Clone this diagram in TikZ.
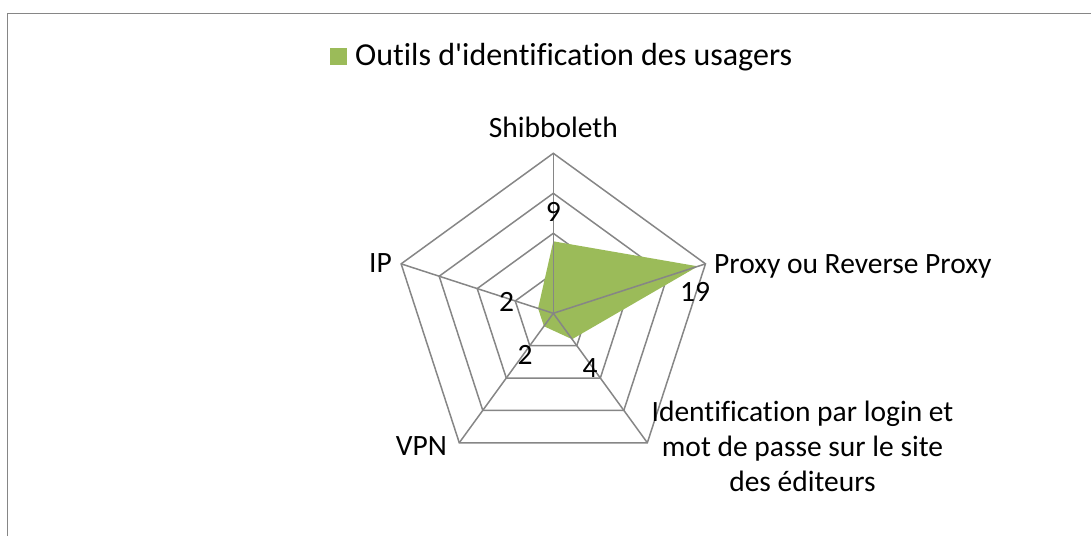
\documentclass[tikz,border=0pt]{standalone}
\usepackage{fontspec}
\setmainfont{Carlito}[Ligatures=NoCommon]
\usepackage{tikz}
\usetikzlibrary{positioning}
\definecolor{gridgray}{RGB}{134,134,134}
\definecolor{radargreen}{RGB}{155,187,89}

\begin{document}
\begin{tikzpicture}[
  x=1pt, y=1pt,
  every node/.style={font=\fontsize{29.5}{35}\selectfont, inner sep=0pt},
  ring/.style={draw=gridgray, line width=1.5pt, line join=miter},
  spoke/.style={draw=gridgray, line width=1.5pt},
  area/.style={fill=radargreen},
  catlabel/.style={anchor=base},
  vallabel/.style={anchor=center}
]
\useasboundingbox (0,0) rectangle (1091,-536);

% Chart frame
\draw[gridgray, line width=1.6pt] (7.5,-536) -- (7.5,-13.5) -- (1091,-13.5);

% Legend
\node[area, minimum size=16.7pt, anchor=south west] (key) at (330,-65) {};
\node[anchor=base west, font=\fontsize{32}{38}\selectfont] (title) at (355,-65)
  {Outils d\textquotesingle identification des usagers};

\begin{scope}[shift={(553.3,-313.3)}]
\coordinate (o) at (0,0);
\foreach \n/\a in {shib/90, proxy/18, login/-54, vpn/-126, ip/162} {
  \coordinate (\n) at (\a:160);
}

% Grid rings, step 5
\foreach \r in {40,80,120,160} {
  \draw[ring] (90:\r) -- (18:\r) -- (-54:\r) -- (-126:\r) -- (162:\r) -- cycle;
}

% Data area
\fill[area] (90:72) -- (18:152) -- (-54:32) -- (-126:16) -- (162:16) -- cycle;

% Spokes
\foreach \n in {shib, proxy, login, vpn, ip} {
  \draw[spoke] (o) -- (\n);
}

% Category labels
\node[catlabel] (lshib) at (0,176.3) {Shibboleth};
\node[anchor=base west] (lproxy) at (160.7,40.3) {Proxy ou Reverse Proxy};
\node[anchor=base east] (lip) at (-161.3,41.3) {IP};
\node[anchor=base east] (lvpn) at (-106.3,-141.7) {VPN};
\node[catlabel, align=center] (llogin) at (249.2,-178.4)
  {Identification par login et\\mot de passe sur le site\\des éditeurs};

% Value labels
\node[vallabel] (vshib) at (0,101.6) {9};
\node[vallabel] (vproxy) at (141.7,21.6) {19};
\node[vallabel] (vip) at (-46.6,11.6) {2};
\node[vallabel] (vvpn) at (-28.3,-41.7) {2};
\node[vallabel] (vlogin) at (36.7,-55) {4};
\end{scope}

\end{tikzpicture}
\end{document}
